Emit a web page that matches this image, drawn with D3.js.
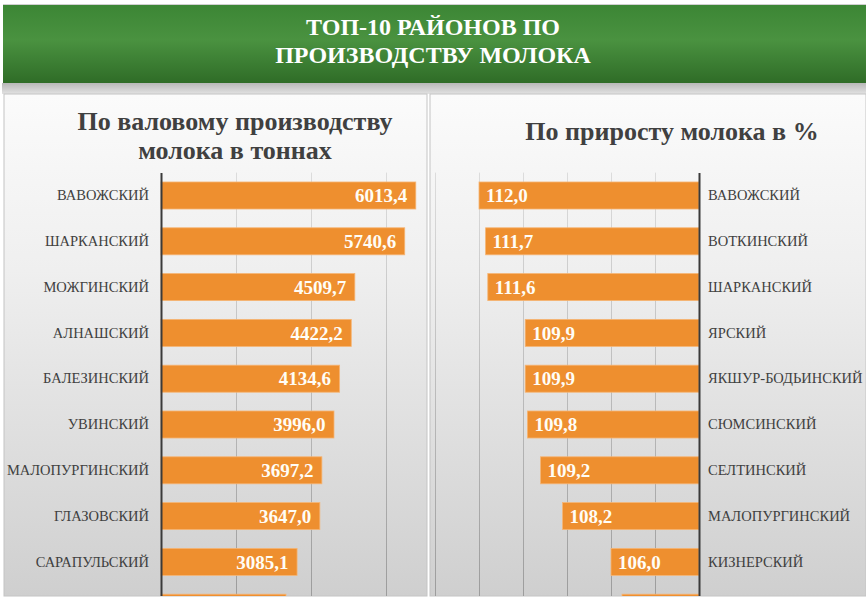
<!DOCTYPE html>
<html><head><meta charset="utf-8">
<script src="https://cdn.jsdelivr.net/npm/d3@7"></script>
</head><body style="margin:0">
<script>
// ---- data ----
const titleLines = ["ТОП-10 РАЙОНОВ ПО", "ПРОИЗВОДСТВУ МОЛОКА"];
const leftTitle = ["По валовому производству", "молока в тоннах"];
const rightTitle = ["По приросту молока в %"];
const leftCategories = ["ВАВОЖСКИЙ","ШАРКАНСКИЙ","МОЖГИНСКИЙ","АЛНАШСКИЙ","БАЛЕЗИНСКИЙ","УВИНСКИЙ","МАЛОПУРГИНСКИЙ","ГЛАЗОВСКИЙ","САРАПУЛЬСКИЙ","ИГРИНСКИЙ"];
const leftValues = [6013.4, 5740.6, 4509.7, 4422.2, 4134.6, 3996.0, 3697.2, 3647.0, 3085.1, 2812.0];
const rightCategories = ["ВАВОЖСКИЙ","ВОТКИНСКИЙ","ШАРКАНСКИЙ","ЯРСКИЙ","ЯКШУР-БОДЬИНСКИЙ","СЮМСИНСКИЙ","СЕЛТИНСКИЙ","МАЛОПУРГИНСКИЙ","КИЗНЕРСКИЙ","БАЛЕЗИНСКИЙ"];
const rightValues = [112.0, 111.7, 111.6, 109.9, 109.9, 109.8, 109.2, 108.2, 106.0, 105.5];
const leftGridTicks = [1580, 3430, 5280];
const rightGridTicks = [104, 106, 108, 110, 112, 114];

const W = 866, H = 601;
const fmt = v => v.toFixed(1).replace(".", ",");
const SERIF = '"Times New Roman", "Liberation Serif", Tinos, serif';
const ORANGE = "#ee8f2f";

const svg = d3.select("body").append("svg").attr("width", W).attr("height", H)
  .style("display","block").style("font-family", SERIF);
const defs = svg.append("defs");

const hg = defs.append("linearGradient").attr("id","hg").attr("x1",0).attr("y1",0).attr("x2",0).attr("y2",1);
hg.append("stop").attr("offset","0").attr("stop-color","#3c8635");
hg.append("stop").attr("offset","0.45").attr("stop-color","#4a9240");
hg.append("stop").attr("offset","1").attr("stop-color","#2f6c27");

const pg = defs.append("linearGradient").attr("id","pg").attr("gradientUnits","userSpaceOnUse")
  .attr("x1",0).attr("y1",95).attr("x2",0).attr("y2",596);
pg.append("stop").attr("offset","0").attr("stop-color","#fbfbfb");
pg.append("stop").attr("offset","0.35").attr("stop-color","#efefef");
pg.append("stop").attr("offset","1").attr("stop-color","#cfcfcf");

const gg = defs.append("linearGradient").attr("id","gg").attr("gradientUnits","userSpaceOnUse")
  .attr("x1",0).attr("y1",172).attr("x2",0).attr("y2",596);
gg.append("stop").attr("offset","0").attr("stop-color","#dcdcdc");
gg.append("stop").attr("offset","1").attr("stop-color","#9c9c9c");

const sg = defs.append("linearGradient").attr("id","sg").attr("x1",0).attr("y1",0).attr("x2",0).attr("y2",1);
sg.append("stop").attr("offset","0").attr("stop-color","#b8b8b8");
sg.append("stop").attr("offset","1").attr("stop-color","#e2e2e2");

defs.append("clipPath").attr("id","clipL").append("rect").attr("x",4).attr("y",94).attr("width",423).attr("height",502);
defs.append("clipPath").attr("id","clipR").append("rect").attr("x",430).attr("y",94).attr("width",436).attr("height",502);

// background pieces
svg.append("rect").attr("x",0).attr("y",0).attr("width",W).attr("height",H).attr("fill","#ffffff");
svg.append("rect").attr("x",2).attr("y",83).attr("width",W-2).attr("height",11).attr("fill","url(#sg)");
svg.append("rect").attr("x",3).attr("y",5).attr("width",W-3).attr("height",78).attr("fill","url(#hg)");
svg.append("rect").attr("x",3).attr("y",4).attr("width",W-3).attr("height",1).attr("fill","#d0d0d0");

// panels
svg.append("rect").attr("x",4).attr("y",94).attr("width",423).attr("height",502).attr("fill","url(#pg)")
  .attr("stroke","#c4c4c4").attr("stroke-width",1);
svg.append("rect").attr("x",430).attr("y",94).attr("width",436).attr("height",502).attr("fill","url(#pg)")
  .attr("stroke","#c4c4c4").attr("stroke-width",1);

// header title
svg.selectAll("text.htitle").data(titleLines).join("text").attr("class","htitle")
  .attr("x",433).attr("y",(d,i)=>35+i*28).attr("fill","#ffffff").attr("text-anchor","middle")
  .style("font-family",SERIF).attr("font-weight","bold").attr("font-size",24).text(d=>d);

// subtitles
svg.selectAll("text.ltitle").data(leftTitle).join("text").attr("class","ltitle")
  .attr("x",235).attr("y",(d,i)=>130+i*28.5).attr("fill","#404040").attr("text-anchor","middle")
  .style("font-family",SERIF).attr("font-weight","bold").attr("font-size",26).text(d=>d);
svg.selectAll("text.rtitle").data(rightTitle).join("text").attr("class","rtitle")
  .attr("x",672).attr("y",140).attr("fill","#404040").attr("text-anchor","middle")
  .style("font-family",SERIF).attr("font-weight","bold").attr("font-size",26).text(d=>d);

// scales
const yL = d3.scaleBand().domain(leftCategories).range([172.6, 630.6]).paddingInner(0.41).paddingOuter(0.205);
const yR = d3.scaleBand().domain(rightCategories).range([172.6, 630.6]).paddingInner(0.41).paddingOuter(0.205);
const xL = d3.scaleLinear().domain([-271, 6290]).range([161, 427]);
const xR = d3.scaleLinear().domain([102, 114]).range([699, 435]);

// LEFT chart
const gL = svg.append("g").attr("clip-path","url(#clipL)");
gL.selectAll("line.grid").data(leftGridTicks).join("line").attr("class","grid")
  .attr("x1",d=>Math.round(xL(d))+0.5).attr("x2",d=>Math.round(xL(d))+0.5)
  .attr("y1",172.6).attr("y2",596).attr("stroke","url(#gg)").attr("stroke-width",1);
gL.selectAll("rect.bar").data(leftValues).join("rect").attr("class","bar")
  .attr("x",xL(xL.domain()[0])).attr("y",(d,i)=>yL(leftCategories[i]))
  .attr("width",d=>xL(d)-xL(xL.domain()[0])).attr("height",yL.bandwidth())
  .attr("fill",ORANGE).attr("stroke","#f6b574").attr("stroke-width",0.8);
gL.selectAll("text.val").data(leftValues).join("text").attr("class","val")
  .attr("x",d=>xL(d)-8.5).attr("y",(d,i)=>yL(leftCategories[i])+yL.bandwidth()/2)
  .attr("dy","0.35em").attr("text-anchor","end").attr("fill","#fffdf6")
  .style("font-family",SERIF).attr("font-weight","bold").attr("font-size",19).text(fmt);
const axL = gL.append("g").attr("transform","translate(161,0)")
  .call(d3.axisLeft(yL).tickSize(0).tickSizeOuter(0).tickPadding(12));
axL.attr("font-family",null).attr("font-size",null);
axL.select(".domain").attr("stroke","#3a3a3a").attr("stroke-width",2);
axL.selectAll("text").style("font-family",SERIF).attr("font-size",14.5).attr("fill","#404040");

// RIGHT chart
const gR = svg.append("g").attr("clip-path","url(#clipR)");
gR.selectAll("line.grid").data(rightGridTicks).join("line").attr("class","grid")
  .attr("x1",d=>Math.round(xR(d))+0.5).attr("x2",d=>Math.round(xR(d))+0.5)
  .attr("y1",172.6).attr("y2",596).attr("stroke","url(#gg)").attr("stroke-width",1);
gR.selectAll("rect.bar").data(rightValues).join("rect").attr("class","bar")
  .attr("x",d=>xR(d)).attr("y",(d,i)=>yR(rightCategories[i]))
  .attr("width",d=>xR(xR.domain()[0])-xR(d)).attr("height",yR.bandwidth())
  .attr("fill",ORANGE).attr("stroke","#f6b574").attr("stroke-width",0.8);
gR.selectAll("text.val").data(rightValues).join("text").attr("class","val")
  .attr("x",d=>xR(d)+7).attr("y",(d,i)=>yR(rightCategories[i])+yR.bandwidth()/2)
  .attr("dy","0.35em").attr("text-anchor","start").attr("fill","#fffdf6")
  .style("font-family",SERIF).attr("font-weight","bold").attr("font-size",19).text(fmt);
const axR = gR.append("g").attr("transform","translate(699,0)")
  .call(d3.axisRight(yR).tickSize(0).tickSizeOuter(0).tickPadding(9));
axR.attr("font-family",null).attr("font-size",null);
axR.select(".domain").attr("stroke","#3a3a3a").attr("stroke-width",2);
axR.selectAll("text").style("font-family",SERIF).attr("font-size",14.5).attr("fill","#404040");
</script>
</body></html>
